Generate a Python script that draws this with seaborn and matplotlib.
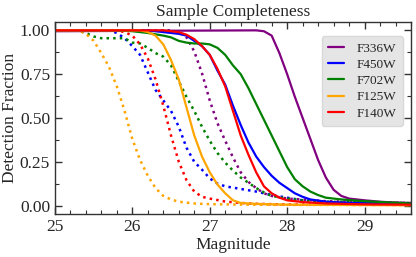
import numpy as np
import pandas as pd
import matplotlib
matplotlib.use("Agg")
import matplotlib.pyplot as plt
from matplotlib.ticker import MultipleLocator
import seaborn as sns

filters = ["F336W", "F450W", "F702W", "F125W", "F140W"]
colors = ["purple", "blue", "green", "orange", "red"]

# solid curves
f336w_mag = [25.0, 27.6, 27.7, 27.8, 27.9, 28.0, 28.1, 28.2, 28.3, 28.4, 28.5, 28.6, 28.7, 28.8, 29.0, 29.2, 29.4, 29.6]
f336w_frac = [0.995, 1.0, 0.995, 0.97, 0.87, 0.75, 0.62, 0.50, 0.38, 0.26, 0.16, 0.09, 0.055, 0.04, 0.03, 0.022, 0.017, 0.014]
f450w_mag = [25.0, 26.2, 26.4, 26.6, 26.7, 26.8, 26.9, 27.0, 27.1, 27.2, 27.3, 27.4, 27.5, 27.6, 27.7, 27.8, 27.9, 28.0, 28.1, 28.2, 28.3, 28.5, 28.8, 29.2, 29.6]
f450w_frac = [1.0, 1.0, 0.99, 0.98, 0.97, 0.94, 0.91, 0.86, 0.77, 0.69, 0.57, 0.46, 0.36, 0.28, 0.22, 0.17, 0.13, 0.10, 0.07, 0.05, 0.035, 0.022, 0.015, 0.012, 0.01]
f702w_mag = [25.0, 25.8, 26.0, 26.2, 26.4, 26.5, 26.6, 26.7, 26.8, 26.9, 27.0, 27.1, 27.2, 27.3, 27.4, 27.5, 27.6, 27.7, 27.8, 27.9, 28.0, 28.1, 28.2, 28.3, 28.4, 28.5, 28.7, 29.0, 29.3, 29.6]
f702w_frac = [1.0, 1.0, 0.995, 0.985, 0.97, 0.96, 0.94, 0.93, 0.925, 0.925, 0.92, 0.90, 0.86, 0.80, 0.75, 0.67, 0.58, 0.49, 0.40, 0.31, 0.22, 0.15, 0.11, 0.08, 0.06, 0.045, 0.035, 0.025, 0.018, 0.012]
f125w_mag = [25.0, 26.1, 26.2, 26.3, 26.4, 26.5, 26.6, 26.7, 26.8, 26.9, 27.0, 27.1, 27.2, 27.3, 27.4, 27.6, 28.0, 29.0, 29.6]
f125w_frac = [1.0, 1.0, 0.99, 0.97, 0.92, 0.83, 0.72, 0.56, 0.40, 0.28, 0.19, 0.12, 0.07, 0.03, 0.015, 0.01, 0.005, 0.003, 0.002]
f140w_mag = [25.0, 26.4, 26.5, 26.6, 26.7, 26.8, 26.9, 27.0, 27.1, 27.2, 27.3, 27.4, 27.5, 27.6, 27.7, 27.8, 27.9, 28.0, 28.2, 28.5, 29.0, 29.6]
f140w_frac = [1.0, 1.0, 0.995, 0.99, 0.975, 0.95, 0.91, 0.86, 0.78, 0.68, 0.54, 0.40, 0.29, 0.19, 0.11, 0.07, 0.045, 0.03, 0.02, 0.012, 0.007, 0.005]

# dotted curves
f336w_mag_b = [25.0, 26.5, 26.6, 26.7, 26.8, 26.9, 27.0, 27.1, 27.2, 27.3, 27.4, 27.5, 27.6, 27.7, 27.8, 28.0, 28.5, 29.0, 29.6]
f336w_frac_b = [1.0, 1.0, 0.99, 0.96, 0.88, 0.755, 0.60, 0.47, 0.37, 0.275, 0.19, 0.135, 0.10, 0.07, 0.055, 0.04, 0.025, 0.02, 0.015]
f450w_mag_b = [25.0, 25.7, 25.8, 25.9, 26.0, 26.1, 26.2, 26.3, 26.4, 26.5, 26.6, 26.7, 26.8, 26.9, 27.0, 27.1, 27.2, 27.4, 27.6, 27.8, 28.0, 28.2, 28.5, 29.0, 29.6]
f450w_frac_b = [1.0, 1.0, 0.985, 0.955, 0.91, 0.86, 0.76, 0.66, 0.60, 0.54, 0.45, 0.33, 0.25, 0.205, 0.155, 0.125, 0.11, 0.095, 0.08, 0.06, 0.045, 0.03, 0.02, 0.015, 0.012]
f702w_mag_b = [25.0, 25.3, 25.4, 25.5, 25.6, 25.9, 26.0, 26.1, 26.2, 26.3, 26.4, 26.5, 26.6, 26.7, 26.8, 26.9, 27.0, 27.1, 27.2, 27.3, 27.4, 27.5, 27.6, 27.7, 27.8, 28.0, 28.2, 28.5, 29.0, 29.6]
f702w_frac_b = [1.0, 1.0, 0.985, 0.965, 0.955, 0.955, 0.93, 0.925, 0.90, 0.87, 0.85, 0.80, 0.71, 0.62, 0.54, 0.45, 0.37, 0.30, 0.245, 0.20, 0.16, 0.13, 0.10, 0.075, 0.055, 0.04, 0.03, 0.022, 0.018, 0.015]
f125w_mag_b = [25.0, 25.3, 25.4, 25.5, 25.6, 25.7, 25.8, 25.9, 26.0, 26.1, 26.2, 26.3, 26.4, 26.5, 26.6, 26.8, 27.0, 27.5, 28.0, 29.6]
f125w_frac_b = [1.0, 1.0, 0.98, 0.94, 0.87, 0.79, 0.68, 0.54, 0.38, 0.26, 0.17, 0.10, 0.055, 0.035, 0.022, 0.012, 0.008, 0.005, 0.004, 0.003]
f140w_mag_b = [25.0, 25.8, 25.9, 26.0, 26.1, 26.2, 26.3, 26.4, 26.5, 26.6, 26.7, 26.8, 26.9, 27.0, 27.2, 27.4, 27.6, 28.0, 29.6]
f140w_frac_b = [1.0, 1.0, 0.99, 0.97, 0.92, 0.84, 0.72, 0.57, 0.40, 0.25, 0.145, 0.08, 0.05, 0.04, 0.023, 0.015, 0.01, 0.006, 0.004]

solid = [(f336w_mag, f336w_frac), (f450w_mag, f450w_frac), (f702w_mag, f702w_frac),
         (f125w_mag, f125w_frac), (f140w_mag, f140w_frac)]
dotted = [(f336w_mag_b, f336w_frac_b), (f450w_mag_b, f450w_frac_b), (f702w_mag_b, f702w_frac_b),
          (f125w_mag_b, f125w_frac_b), (f140w_mag_b, f140w_frac_b)]

sns.set_style("ticks")
plt.rcParams["font.family"] = ["Liberation Serif", "DejaVu Serif"]

fig = plt.figure(figsize=(4.16, 2.57), dpi=100)
ax = fig.add_axes([0.132, 0.166, 0.856, 0.750])

for name, col, (m, f) in zip(filters, colors, dotted):
    sns.lineplot(x=m, y=f, color=col, linestyle=":", linewidth=1.8, ax=ax)
for name, col, (m, f) in zip(filters, colors, solid):
    sns.lineplot(x=m, y=f, color=col, linewidth=1.6, label=name, ax=ax)

ax.set_xlim(25, 29.6)
ax.set_ylim(-0.05, 1.05)
ax.set_xticks([25, 26, 27, 28, 29])
ax.set_yticks([0.0, 0.25, 0.5, 0.75, 1.0])
ax.set_yticklabels(["0.00", "0.25", "0.50", "0.75", "1.00"])
ax.xaxis.set_minor_locator(MultipleLocator(0.2))
ax.yaxis.set_minor_locator(MultipleLocator(0.125))
ax.tick_params(which="both", direction="in", top=True, right=True, labelsize=12.5,
               color="#333333")
ax.tick_params(which="major", length=5, width=1)
ax.tick_params(which="minor", length=3, width=0.8)
for s in ax.spines.values():
    s.set_linewidth(1.0)
    s.set_color("#333333")

ax.set_xlabel("Magnitude", fontsize=12.5, labelpad=1)
ax.set_ylabel("Detection Fraction", fontsize=12.5, labelpad=1)
ax.set_title("Sample Completeness", fontsize=12.5, pad=4)

leg = ax.legend(loc="upper right", fontsize=9.5, frameon=True, handlelength=1.2,
                handletextpad=0.9, borderpad=0.5, labelspacing=0.3,
                bbox_to_anchor=(0.995, 0.96))
leg.get_frame().set_facecolor("#e5e5e5")
leg.get_frame().set_edgecolor("#d8d8d8")
leg.get_frame().set_alpha(1.0)

fig.savefig("out.png", dpi=100)
